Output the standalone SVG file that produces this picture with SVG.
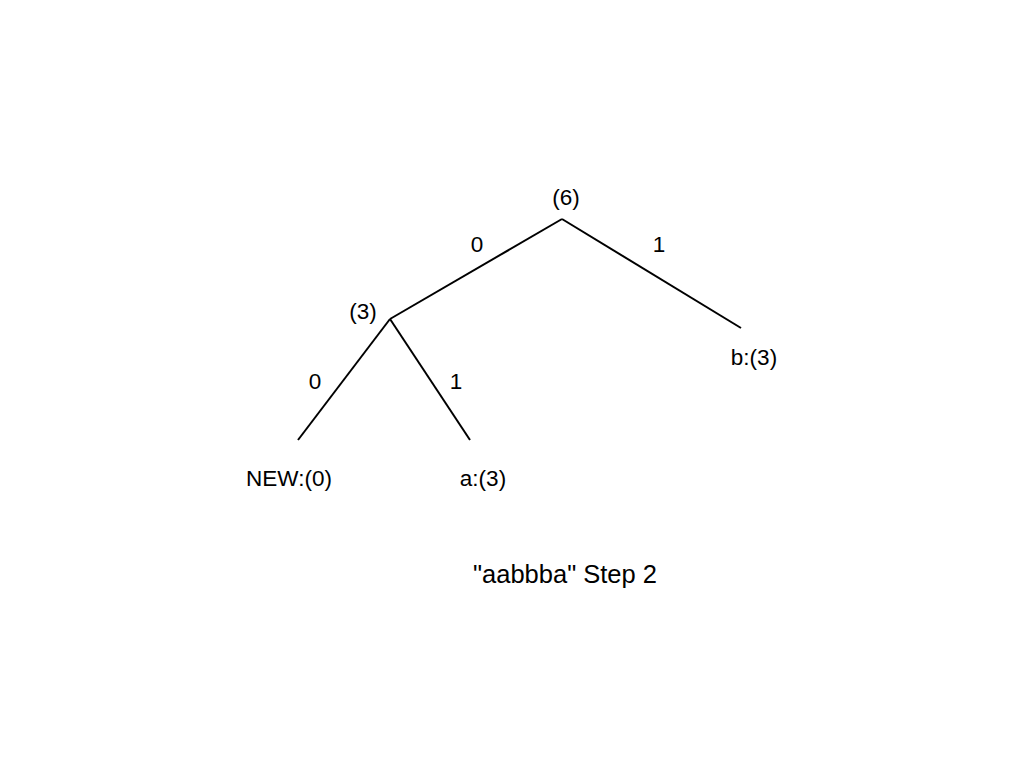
<svg xmlns="http://www.w3.org/2000/svg" width="1024" height="768" viewBox="0 0 1024 768">
<style>
text{font-family:"Liberation Sans",Arial,sans-serif;font-size:22.5px;fill:#000;text-anchor:middle}
.cap{font-size:25.5px}
line{stroke:#000;stroke-width:2;fill:none}
</style>
<rect width="1024" height="768" fill="#fff"/>
<g id="connectors">
<line x1="562" y1="219" x2="390" y2="319"/>
<line x1="562" y1="219" x2="741" y2="328"/>
<line x1="390" y1="319" x2="298" y2="440"/>
<line x1="390" y1="319" x2="470" y2="440"/>
<text x="477" y="251.5">0</text>
<text x="659" y="251.5">1</text>
<text x="315" y="388.5">0</text>
<text x="456" y="388.5">1</text>
</g>
<g id="root"><text x="566" y="204.5">(6)</text></g>
<g id="n3"><text x="363" y="318.5">(3)</text></g>
<g id="b"><text x="754" y="364.5">b:(3)</text></g>
<g id="new"><text x="289" y="485.5">NEW:(0)</text></g>
<g id="a"><text x="483" y="485.5">a:(3)</text></g>
<g id="caption"><text class="cap" x="565" y="582.5">"aabbba" Step 2</text></g>
</svg>
